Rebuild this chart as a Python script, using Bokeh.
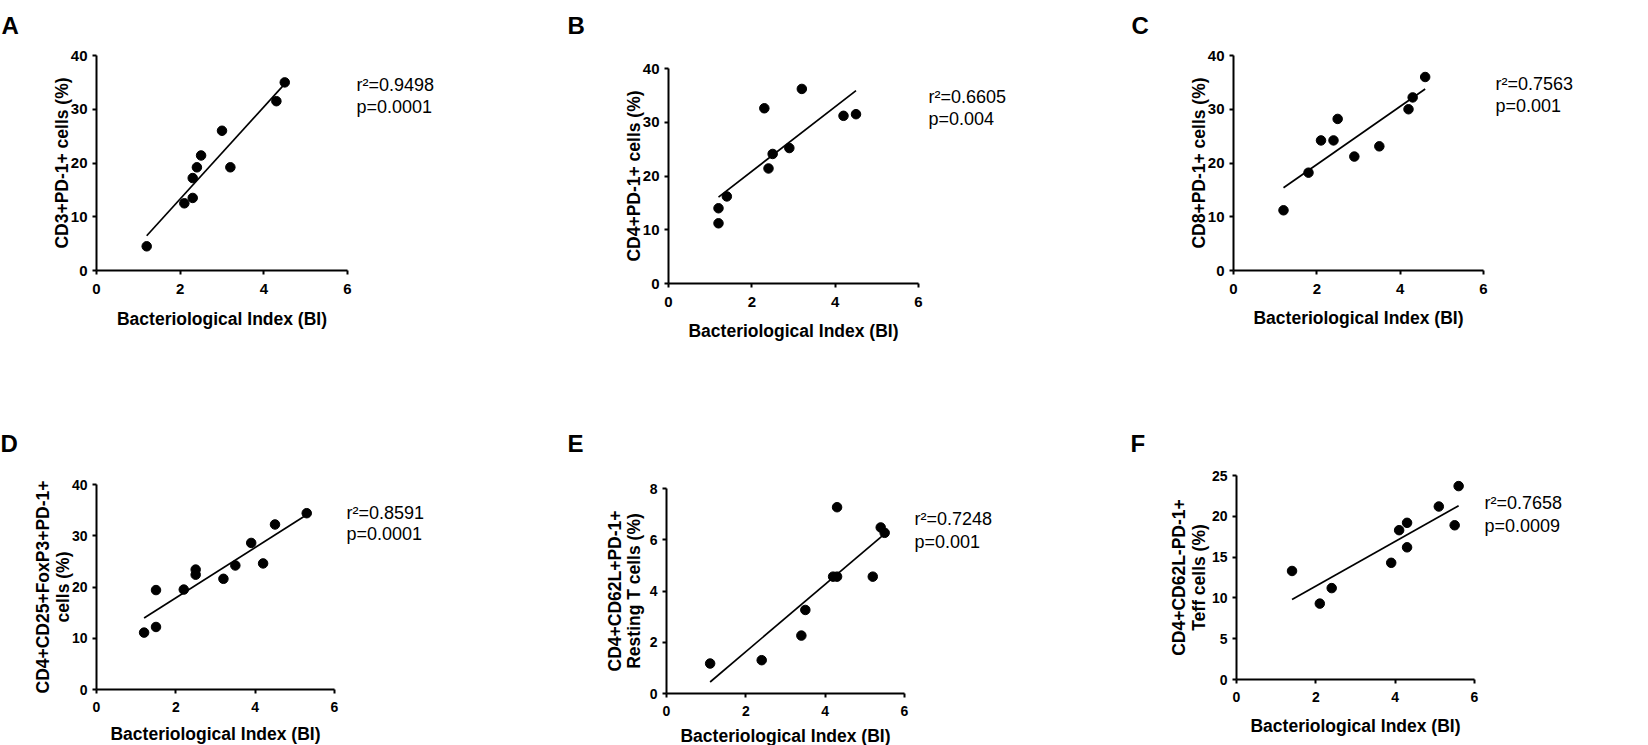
import numpy as np
from bokeh.plotting import figure
from bokeh.layouts import column, row
from bokeh.models import Range1d, FixedTicker, Label, LinearAxis
from bokeh.embed import file_html
from bokeh.resources import INLINE

# ---------------- data ----------------
x_title = "Bacteriological Index (BI)"
x_ticks = [0, 2, 4, 6]

a_bi = [1.2, 2.1, 2.3, 2.3, 2.4, 2.5, 3.0, 3.2, 4.3, 4.5]
a_pct = [4.5, 12.5, 13.5, 17.2, 19.2, 21.4, 26.0, 19.2, 31.5, 35.0]
a_ylabel = ["CD3+PD-1+ cells (%)"]
a_stats = ["r\u00b2=0.9498", "p=0.0001"]

b_bi = [1.2, 1.2, 1.4, 2.3, 2.4, 2.5, 2.9, 3.2, 4.2, 4.5]
b_pct = [11.2, 14.0, 16.2, 32.6, 21.4, 24.1, 25.2, 36.2, 31.2, 31.5]
b_ylabel = ["CD4+PD-1+ cells (%)"]
b_stats = ["r\u00b2=0.6605", "p=0.004"]

c_bi = [1.2, 1.8, 2.1, 2.4, 2.5, 2.9, 3.5, 4.2, 4.3, 4.6]
c_pct = [11.2, 18.2, 24.2, 24.2, 28.2, 21.2, 23.1, 30.0, 32.2, 36.0]
c_ylabel = ["CD8+PD-1+ cells (%)"]
c_stats = ["r\u00b2=0.7563", "p=0.001"]

d_bi = [1.2, 1.5, 1.5, 2.2, 2.5, 2.5, 3.2, 3.5, 3.9, 4.2, 4.5, 5.3]
d_pct = [11.1, 12.2, 19.4, 19.5, 22.4, 23.4, 21.6, 24.2, 28.6, 24.6, 32.2, 34.4]
d_ylabel = ["CD4+CD25+FoxP3+PD-1+", "cells (%)"]
d_stats = ["r\u00b2=0.8591", "p=0.0001"]

e_bi = [1.1, 2.4, 3.4, 3.5, 4.2, 4.3, 4.3, 5.2, 5.4, 5.5]
e_pct = [1.17, 1.30, 2.26, 3.26, 4.56, 4.56, 7.27, 4.56, 6.48, 6.27]
e_ylabel = ["CD4+CD62L+PD-1+", "Resting T cells (%)"]
e_stats = ["r\u00b2=0.7248", "p=0.001"]

f_bi = [1.4, 2.1, 2.4, 3.9, 4.1, 4.3, 4.3, 5.1, 5.5, 5.6]
f_pct = [13.3, 9.3, 11.2, 14.3, 18.3, 19.2, 16.2, 21.2, 18.9, 23.7]
f_ylabel = ["CD4+CD62L-PD-1+", "Teff cells (%)"]
f_stats = ["r\u00b2=0.7658", "p=0.0009"]

y_ticks_40 = [0, 10, 20, 30, 40]
y_ticks_8 = [0, 2, 4, 6, 8]
y_ticks_25 = [0, 5, 10, 15, 20, 25]

FONT = "Liberation Sans"


def make_panel(geo, xs, ys, ymax, yticks, ylabel, stats, letter):
    ox, oy = geo["origin"]
    W, H = geo["size"]
    L, T, w, h = geo["frame"]
    # data ranges chosen so that 0..6 / 0..ymax fill the frame box in pixels
    x0 = -(L - ox) / w * 6
    x1 = (ox + W - L) / w * 6
    y0 = -(oy + H - (T + h)) / h * ymax
    y1 = ymax + (T - oy) / h * ymax
    p = figure(width=W, height=H, output_backend="svg", toolbar_location=None,
               title=None, x_axis_location=None, y_axis_location=None,
               x_range=Range1d(x0, x1), y_range=Range1d(y0, y1),
               min_border=0, min_border_left=0, min_border_right=0,
               min_border_top=0, min_border_bottom=0)
    p.outline_line_color = None
    p.background_fill_color = "white"
    p.border_fill_color = "white"
    p.xgrid.visible = False
    p.ygrid.visible = False

    xa = LinearAxis(fixed_location=0, bounds=(0, 6))
    ya = LinearAxis(fixed_location=0, bounds=(0, ymax))
    for ax, ticks, so in ((xa, x_ticks, geo["xstand"]), (ya, yticks, 5)):
        ax.ticker = FixedTicker(ticks=ticks)
        ax.minor_tick_line_color = None
        ax.major_tick_in = 0
        ax.major_tick_out = 4
        ax.major_tick_line_width = 2
        ax.major_tick_line_color = "black"
        ax.axis_line_width = 2
        ax.axis_line_color = "black"
        ax.major_label_text_font = FONT
        ax.major_label_text_font_style = "bold"
        ax.major_label_text_font_size = geo["tick_size"]
        ax.major_label_text_color = "black"
        ax.major_label_standoff = so
    p.add_layout(xa, "below")
    p.add_layout(ya, "left")

    p.scatter(xs, ys, size=9.5, color="black")
    slope, icpt = np.polyfit(xs, ys, 1)
    xl = [min(xs), max(xs)]
    p.line(xl, [slope * v + icpt for v in xl], line_color="black", line_width=1.7)

    def to_data(px, py):
        return (px - L) / w * 6, (T + h - py) / h * ymax

    # x axis title
    cx, cy = to_data(L + w / 2, geo["xlabel_base"])
    p.add_layout(Label(x=cx, y=cy, text=x_title, text_font=FONT,
                       text_font_size="17.5px", text_font_style="bold",
                       text_color="black", text_align="center",
                       text_baseline="alphabetic"))
    # y axis title (one or two lines, rotated)
    for txt, bx in zip(ylabel, geo["ylabel_base"]):
        dx, dy = to_data(bx, T + h / 2)
        p.add_layout(Label(x=dx, y=dy, text=txt, angle=np.pi / 2, text_font=FONT,
                           text_font_size="17.5px", text_font_style="bold",
                           text_color="black", text_align="center",
                           text_baseline="alphabetic"))
    # statistics
    sx, sb1, sb2 = geo["stats_at"]
    for txt, b in zip(stats, (sb1, sb2)):
        dx, dy = to_data(sx, b)
        p.add_layout(Label(x=dx, y=dy, text=txt, text_font=FONT,
                           text_font_size="18px", text_color="black",
                           text_baseline="alphabetic", text_align="left"))
    # panel letter
    lx, lb = geo["letter_at"]
    dx, dy = to_data(lx, lb)
    p.add_layout(Label(x=dx, y=dy, text=letter, text_font=FONT,
                       text_font_size="24px", text_font_style="bold",
                       text_color="black", text_baseline="alphabetic"))
    return p


geoA = dict(origin=(0, 0), size=(545, 372), frame=(96, 55, 251, 215),
            xlabel_base=318, ylabel_base=[61.5], stats_at=(356, 84, 106),
            letter_at=(1, 25), tick_size="15px", xstand=9)
geoB = dict(origin=(545, 0), size=(545, 372), frame=(668, 68, 250, 215),
            xlabel_base=330, ylabel_base=[633.5], stats_at=(928, 96, 118),
            letter_at=(567, 25), tick_size="15px", xstand=9)
geoC = dict(origin=(1090, 0), size=(558, 372), frame=(1233, 55, 250, 215),
            xlabel_base=317, ylabel_base=[1198], stats_at=(1495, 83, 105),
            letter_at=(1131, 25), tick_size="15px", xstand=9)
geoD = dict(origin=(0, 372), size=(545, 373), frame=(96, 484, 238, 205),
            xlabel_base=733, ylabel_base=[42.5, 62.5], stats_at=(346, 512, 533),
            letter_at=(0, 443), tick_size="14px", xstand=8)
geoE = dict(origin=(545, 372), size=(545, 373), frame=(666, 488, 238, 205),
            xlabel_base=735, ylabel_base=[614, 633], stats_at=(914, 518, 541),
            letter_at=(567, 443), tick_size="14px", xstand=8)
geoF = dict(origin=(1090, 372), size=(558, 373), frame=(1236, 475, 238, 204),
            xlabel_base=725, ylabel_base=[1178, 1198], stats_at=(1484, 502, 525),
            letter_at=(1130, 443), tick_size="14px", xstand=8)

pA = make_panel(geoA, a_bi, a_pct, 40, y_ticks_40, a_ylabel, a_stats, "A")
pB = make_panel(geoB, b_bi, b_pct, 40, y_ticks_40, b_ylabel, b_stats, "B")
pC = make_panel(geoC, c_bi, c_pct, 40, y_ticks_40, c_ylabel, c_stats, "C")
pD = make_panel(geoD, d_bi, d_pct, 40, y_ticks_40, d_ylabel, d_stats, "D")
pE = make_panel(geoE, e_bi, e_pct, 8, y_ticks_8, e_ylabel, e_stats, "E")
pF = make_panel(geoF, f_bi, f_pct, 25, y_ticks_25, f_ylabel, f_stats, "F")

layout = column(row(pA, pB, pC, spacing=0), row(pD, pE, pF, spacing=0), spacing=0)
open("out.html", "w").write(file_html(layout, INLINE))
